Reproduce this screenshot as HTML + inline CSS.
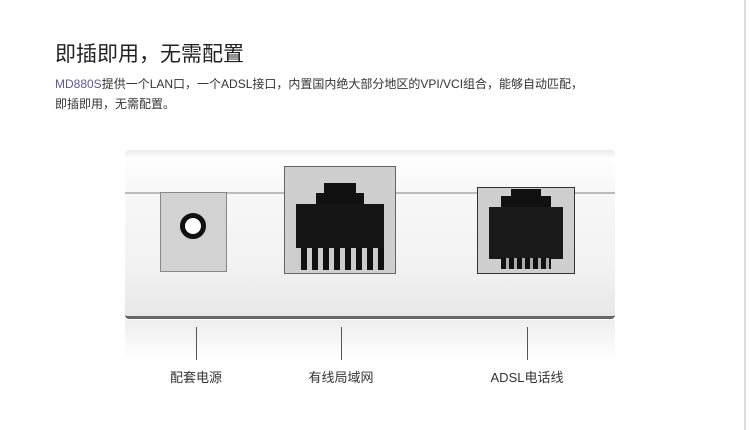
<!DOCTYPE html>
<html><head><meta charset="utf-8"><style>
body{margin:0;width:750px;height:430px;background:#fff;position:relative;overflow:hidden;font-family:"Liberation Sans","Noto Sans CJK SC",sans-serif}
.a{position:absolute}
.t{left:55px;top:38px;font-size:21px;color:#222}
.p{left:55px;font-size:12px;color:#333;line-height:20px}
.l{width:1px;background:#555;top:327px;height:33px}
.lab{top:367px;font-size:13px;color:#333;width:100px;text-align:center}
</style></head><body>
<div class="a" style="left:744px;top:0;width:2px;height:430px;background:#ddd"></div>
<div class="a t">即插即用，无需配置</div>
<div class="a p" style="top:74px"><span style="color:#5a5a9a">MD880S</span>提供一个LAN口，一个ADSL接口，内置国内绝大部分地区的VPI/VCI组合，能够自动匹配，</div>
<div class="a p" style="top:94px">即插即用，无需配置。</div>
<!-- device -->
<div class="a" style="left:125px;top:150px;width:490px;height:166px;background:linear-gradient(#fbfbfb,#f2f2f2 70%,#e8e8e8);border-radius:4px;border-bottom:3px solid #666"></div>
<div class="a" style="left:125px;top:150px;width:490px;height:42px;background:linear-gradient(#eaeaea,#fff 20%,#f7f7f7);border-bottom:2px solid #bbb;border-radius:4px 4px 0 0"></div>
<div class="a" style="left:125px;top:320px;width:490px;height:40px;background:linear-gradient(#eee,#fff)"></div>
<!-- power -->
<div class="a" style="left:160px;top:192px;width:67px;height:80px;background:#d2d2d2;border:1px solid #888;box-sizing:border-box"></div>
<div class="a" style="left:180px;top:213px;width:16px;height:16px;border:5px solid #111;border-radius:50%;background:#fff"></div>
<!-- LAN -->
<div class="a" style="left:284px;top:166px;width:112px;height:108px;background:#cfcfcf;border:1px solid #666;box-sizing:border-box"></div>
<div class="a" style="left:324px;top:183px;width:32px;height:12px;background:#111"></div>
<div class="a" style="left:316px;top:193px;width:48px;height:12px;background:#111"></div>
<div class="a" style="left:296px;top:204px;width:88px;height:66px;background:#151515"></div>
<div class="a" style="left:296px;top:248px;width:88px;height:22px;background:repeating-linear-gradient(90deg,#ccc 0 5px,#111 5px 11px)"></div>
<!-- ADSL -->
<div class="a" style="left:477px;top:187px;width:98px;height:87px;background:#cfcfcf;border:1px solid #333;box-sizing:border-box"></div>
<div class="a" style="left:511px;top:189px;width:30px;height:8px;background:#111"></div>
<div class="a" style="left:501px;top:196px;width:50px;height:12px;background:#111"></div>
<div class="a" style="left:489px;top:207px;width:74px;height:52px;background:#1a1a1a"></div>
<div class="a" style="left:501px;top:258px;width:50px;height:11px;background:repeating-linear-gradient(90deg,#111 0 5px,#aaa 5px 8px)"></div>
<!-- lines -->
<div class="a l" style="left:196px"></div>
<div class="a l" style="left:341px"></div>
<div class="a l" style="left:527px"></div>
<div class="a lab" style="left:146px">配套电源</div>
<div class="a lab" style="left:291px">有线局域网</div>
<div class="a lab" style="left:477px">ADSL电话线</div>
</body></html>
